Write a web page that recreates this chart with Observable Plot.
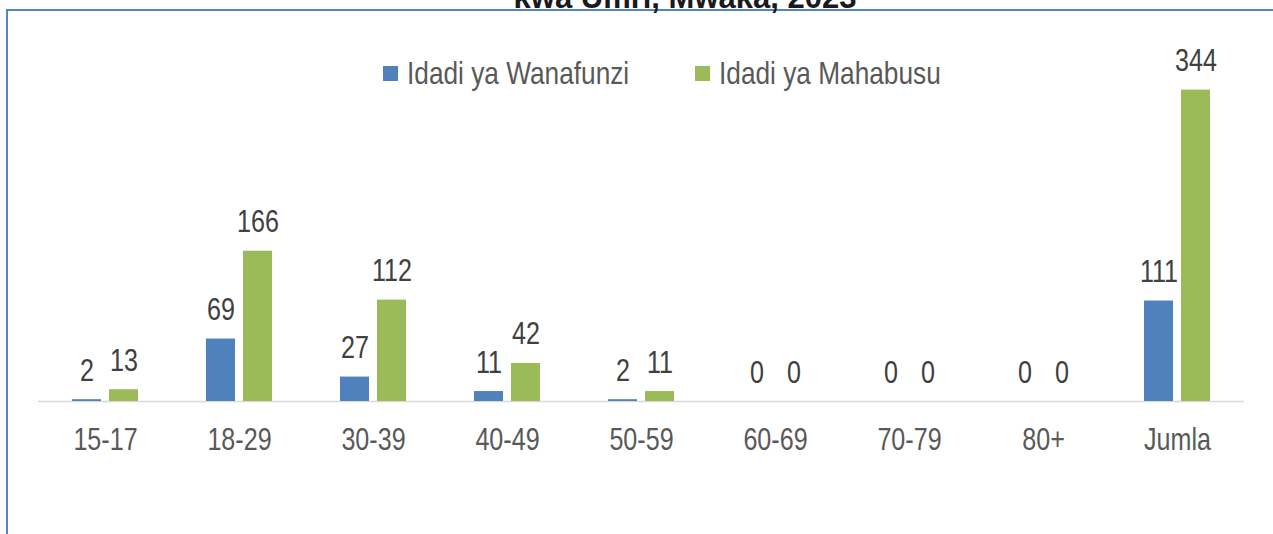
<!DOCTYPE html>
<html>
<head>
<meta charset="utf-8">
<script src="https://cdn.jsdelivr.net/npm/d3@7"></script>
<script src="https://cdn.jsdelivr.net/npm/@observablehq/plot@0.6"></script>
<style>
  html, body { margin: 0; padding: 0; background: #fff; }
  #wrap { position: relative; width: 1273px; height: 534px; overflow: hidden; background: #fff; }
  #frame { position: absolute; left: 6px; top: 9px; width: 1400px; height: 700px;
           border-left: 2px solid #5384c4; border-top: 2px solid #5384c4; box-sizing: border-box; }
  #title { position: absolute; left: 385px; width: 600px; top: -18px; text-align: center;
           font: bold 31px "Liberation Sans", Arial, sans-serif; line-height: 1; color: #1a1a1a; white-space: nowrap; }
  #chart { position: absolute; left: 0; top: 0; }
  .legend { position: absolute; top: 56px; height: 34px; display: flex; align-items: center;
            font-family: "Liberation Sans", Arial, sans-serif;
            font-size: 32px; color: #595959; white-space: nowrap; }
  .legend .sw { width: 15px; height: 15px; margin-right: 9px; flex: none; }
  .legend .lt { display: inline-block; transform: scaleX(0.82); transform-origin: left center; }
</style>
</head>
<body>
<div id="wrap">
  <div id="frame"></div>
  <div id="title">kwa Umri, Mwaka, 2023</div>
  <div id="chart"></div>
  <div class="legend" style="left:383px"><span class="sw" style="background:#4f81bd"></span><span class="lt">Idadi ya Wanafunzi</span></div>
  <div class="legend" style="left:695px"><span class="sw" style="background:#9bbb59"></span><span class="lt">Idadi ya Mahabusu</span></div>
</div>
<script>
const categories = ["15-17", "18-29", "30-39", "40-49", "50-59", "60-69", "70-79", "80+", "Jumla"];
const seriesNames = ["Idadi ya Wanafunzi", "Idadi ya Mahabusu"];
const wanafunzi = [2, 69, 27, 11, 2, 0, 0, 0, 111];
const mahabusu = [13, 166, 112, 42, 11, 0, 0, 0, 344];
const colors = ["#4f81bd", "#9bbb59"];

const data = [];
categories.forEach((c, i) => {
  data.push({cat: c, series: seriesNames[0], value: wanafunzi[i]});
  data.push({cat: c, series: seriesNames[1], value: mahabusu[i]});
});

const font = '"Liberation Sans", Arial, sans-serif';

const chart = Plot.plot({
  width: 1273,
  height: 534,
  marginLeft: 36,
  marginRight: 27,
  marginTop: 57,
  marginBottom: 133,
  style: {background: "transparent", fontFamily: font, overflow: "visible"},
  fx: {domain: categories, padding: 0, label: null, axis: null},
  x: {domain: seriesNames, paddingInner: 0.21, paddingOuter: 0.874, axis: null},
  y: {domain: [0, 380], axis: null},
  color: {domain: seriesNames, range: colors},
  marks: [
    Plot.ruleY([0], {stroke: "#d9d9d9", strokeWidth: 1.5}),
    Plot.barY(data, {fx: "cat", x: "series", y: "value", fill: "series"}),
    Plot.text(data, {fx: "cat", x: "series", y: "value", text: d => String(d.value),
      lineAnchor: "bottom", dy: -19, fontSize: 31, fill: "#404040"}),
    Plot.axisFx({domain: categories, anchor: "bottom", tickSize: 0, tickPadding: 26, fontSize: 31, color: "#595959", label: null})
  ]
});
// condense the text horizontally (narrow typeface look)
chart.querySelectorAll("text").forEach(t => {
  const tr = t.getAttribute("transform") || "";
  t.setAttribute("transform", (tr + " scale(0.81,1)").trim());
});
document.getElementById("chart").appendChild(chart);
</script>
</body>
</html>
